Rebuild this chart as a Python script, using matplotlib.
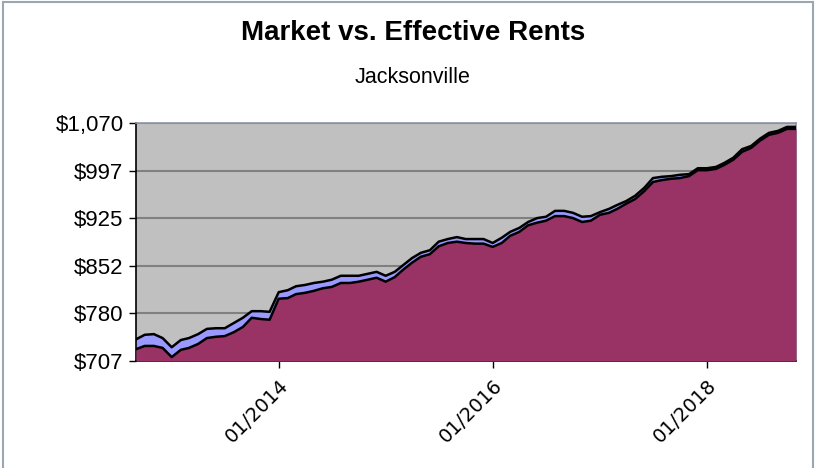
import numpy as np
import pandas as pd
import matplotlib
matplotlib.use("Agg")
import matplotlib.pyplot as plt
import matplotlib.dates as mdates
from matplotlib.patches import Rectangle

# monthly rents, Sep 2012 - Nov 2018
months = pd.date_range("2012-09-01", periods=75, freq="MS")

market = [740, 747, 748, 742, 728, 739, 742, 748, 756, 757,
          757, 765, 773, 783, 783, 782, 812, 815, 821, 823,
          826, 828, 831, 837, 837, 837, 840, 843, 837, 843,
          853, 864, 872, 876, 889, 893, 896, 893, 893, 893,
          887, 895, 904, 910, 919, 925, 927, 936, 936, 933,
          927, 928, 934, 939, 945, 951, 959, 971, 986, 988,
          989, 991, 992, 1001, 1001, 1003, 1009, 1017, 1030, 1035,
          1046, 1055, 1058, 1064, 1064]

effective = [725, 730, 730, 727, 713, 724, 727, 733, 742, 744,
             745, 751, 759, 773, 771, 770, 802, 803, 809, 811,
             814, 818, 820, 826, 826, 828, 831, 834, 828, 835,
             846, 857, 866, 870, 882, 887, 889, 887, 886, 886,
             881, 887, 898, 904, 914, 918, 921, 928, 928, 925,
             919, 921, 930, 933, 939, 947, 954, 966, 980, 983,
             985, 986, 989, 998, 998, 1000, 1006, 1014, 1026, 1032,
             1043, 1052, 1055, 1061, 1061]

y_ticks = [707, 780, 852, 925, 997, 1070]
y_tick_labels = ["$707", "$780", "$852", "$925", "$997", "$1,070"]
x_ticks = pd.to_datetime(["2014-01-01", "2016-01-01", "2018-01-01"])
x_tick_labels = ["01/2014", "01/2016", "01/2018"]

fig = plt.figure(figsize=(8.26, 4.68), dpi=100)
fig.patches.append(Rectangle((0.004, -0.05), 0.98, 1.045, transform=fig.transFigure,
                             fill=False, edgecolor="#9aa6b2", linewidth=1.5))

ax = fig.add_axes([0.1646, 0.2286, 0.7991, 0.5086])
ax.set_facecolor("#C0C0C0")

ymin, ymax = y_ticks[0], y_ticks[-1]
ax.fill_between(months, market, ymin, color="#9999FF", linewidth=0, zorder=2)
ax.fill_between(months, effective, ymin, color="#993366", linewidth=0, zorder=3)
ax.plot(months, market, color="black", linewidth=1.8, zorder=4)
ax.plot(months, effective, color="black", linewidth=1.8, zorder=4)

ax.set_xlim(months[0], months[-1])
ax.set_ylim(ymin, ymax)
ax.set_yticks(y_ticks)
ax.set_yticklabels(y_tick_labels, fontsize=16, family=["Liberation Sans", "DejaVu Sans"])
ax.set_xticks(x_ticks)
ax.set_xticklabels(x_tick_labels, rotation=45, ha="right", rotation_mode="anchor",
                   fontsize=14)
ax.yaxis.grid(True, color="#808080", linewidth=1.5, zorder=1)
ax.set_axisbelow(True)
ax.tick_params(axis="both", direction="out", length=5, width=1, color="black")
ax.tick_params(axis="x", pad=6)
ax.tick_params(axis="y", pad=4)

for s in ["left", "bottom"]:
    ax.spines[s].set_color("black")
    ax.spines[s].set_linewidth(1.2)
for s in ["top", "right"]:
    ax.spines[s].set_color("#8a96a8")
    ax.spines[s].set_linewidth(1.2)

fig.text(0.5, 0.93, "Market vs. Effective Rents", ha="center", va="center",
         fontsize=20, fontweight="bold",
         family=["Liberation Sans", "DejaVu Sans"])
fig.text(0.5, 0.835, "Jacksonville", ha="center", va="center", fontsize=15.5,
         family=["Liberation Sans", "DejaVu Sans"])

fig.savefig("out.png", dpi=100)
